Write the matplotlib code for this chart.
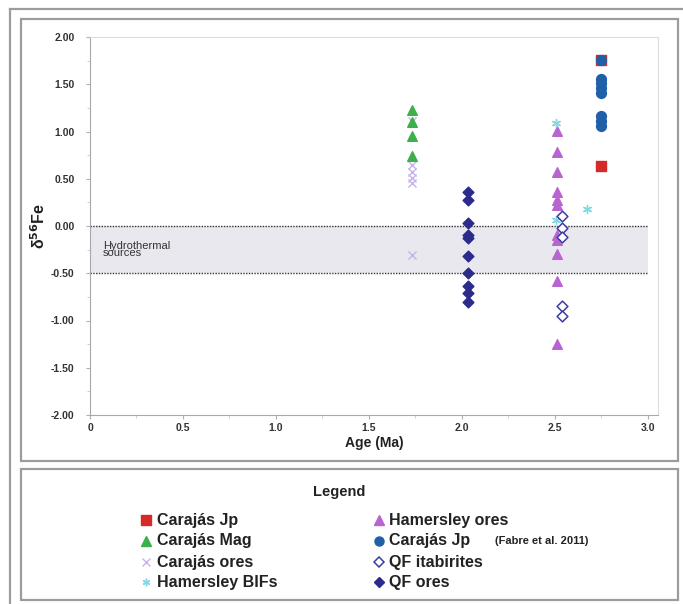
import matplotlib
matplotlib.use("Agg")
import matplotlib.pyplot as plt
from matplotlib.patches import Rectangle
from matplotlib.lines import Line2D

plt.rcParams["font.family"] = ["Liberation Sans", "DejaVu Sans"]

W, H = 683, 604

# Data (age in Ma, delta56Fe)
carajas_jp_age = [2.75, 2.75]
carajas_jp_fe = [1.76, 0.64]

carajas_mag_age = [1.73, 1.73, 1.73, 1.73]
carajas_mag_fe = [1.23, 1.10, 0.95, 0.74]

carajas_ores_age = [1.73] * 6
carajas_ores_fe = [1.11, 0.65, 0.57, 0.51, 0.46, -0.31]

hamersley_bif_age = [2.505, 2.505, 2.67]
hamersley_bif_fe = [1.09, 0.06, 0.18]

hamersley_ores_age = [2.51] * 11
hamersley_ores_fe = [1.01, 0.78, 0.57, 0.36, 0.28, 0.22, -0.10, -0.15, -0.30, -0.58, -1.25]

fabre_age = [2.75] * 8
fabre_fe = [1.76, 1.56, 1.51, 1.46, 1.41, 1.16, 1.11, 1.06]

qf_itab_age = [2.54] * 5
qf_itab_fe = [0.11, -0.02, -0.12, -0.85, -0.95]

qf_ores_age = [2.03] * 10
qf_ores_fe = [0.36, 0.27, 0.03, -0.10, -0.13, -0.32, -0.50, -0.63, -0.71, -0.80]

band_top, band_bottom = 0.0, -0.5
x_ticks = [0, 0.5, 1.0, 1.5, 2.0, 2.5, 3.0]
x_tick_labels = ["0", "0.5", "1.0", "1.5", "2.0", "2.5", "3.0"]
y_ticks = [2.0, 1.5, 1.0, 0.5, 0.0, -0.5, -1.0, -1.5, -2.0]

C_RED = "#d42a2a"
C_GREEN = "#3cb04a"
C_LAV = "#c9b2ec"
C_CYAN = "#86d6e2"
C_PURPLE = "#b865d2"
C_BLUE = "#2060a8"
C_ITAB = "#3c3ca0"
C_NAVY = "#2c2a8a"


def fx(px):
    return px / W


def fy(py):
    return 1 - py / H


fig = plt.figure(figsize=(W / 100, H / 100), dpi=100)
fig.patch.set_facecolor("white")

# frames around chart and legend
frame_col = "#9c9c9c"
fig.add_artist(Line2D([fx(10), fx(10)], [fy(9), 0], color=frame_col, lw=1.6, transform=fig.transFigure))
fig.add_artist(Line2D([fx(10), 1], [fy(9), fy(9)], color=frame_col, lw=1.6, transform=fig.transFigure))
fig.add_artist(Rectangle((fx(21), fy(461)), fx(678) - fx(21), fy(19) - fy(461), fill=False,
                         edgecolor=frame_col, lw=1.6, transform=fig.transFigure))
fig.add_artist(Rectangle((fx(21), fy(600)), fx(678) - fx(21), fy(469) - fy(600), fill=False,
                         edgecolor=frame_col, lw=1.6, transform=fig.transFigure))

ax = fig.add_axes([fx(90), fy(415), fx(658) - fx(90), fy(37) - fy(415)])
ax.set_xlim(0, 3.054)
ax.set_ylim(-2.0, 2.0)

# hydrothermal band
ax.fill_between([0, 3.0], band_bottom, band_top, color="#e8e8ee", zorder=0, lw=0)
ax.plot([0, 3.0], [band_top, band_top], color="#333333", ls=(0, (1, 1)), lw=1.0, zorder=1)
ax.plot([0, 3.0], [band_bottom, band_bottom], color="#333333", ls=(0, (1, 1)), lw=1.0, zorder=1)
ax.text(0.07, -0.25, "Hydrothermal\nsources", fontsize=8, color="#333333",
        linespacing=0.7, va="center", ha="left")

ax.scatter(carajas_ores_age, carajas_ores_fe, marker="x", s=34, color=C_LAV, lw=1.0, zorder=2)
ax.scatter(carajas_mag_age, carajas_mag_fe, marker="^", s=48, color=C_GREEN, zorder=3)
ax.scatter(hamersley_ores_age, hamersley_ores_fe, marker="^", s=48, color=C_PURPLE, zorder=3)
ax.scatter(hamersley_bif_age, hamersley_bif_fe, marker=(6, 2, 0), s=34, color=C_CYAN, lw=1.0, zorder=4)
ax.scatter(carajas_jp_age, carajas_jp_fe, marker="s", s=48, color=C_RED, zorder=3)
ax.scatter(fabre_age, fabre_fe, marker="o", s=50, color=C_BLUE, zorder=4)
ax.scatter(qf_itab_age, qf_itab_fe, marker="D", s=30, facecolor="white", edgecolor=C_ITAB, lw=1.1, zorder=4)
ax.scatter(qf_ores_age, qf_ores_fe, marker="D", s=30, color=C_NAVY, zorder=4)

ax.set_xticks(x_ticks)
ax.set_xticklabels(x_tick_labels)
ax.set_yticks(y_ticks)
ax.set_yticklabels([f"{v:.2f}" for v in y_ticks])
ax.set_xticks([0.25, 0.75, 1.25, 1.75, 2.25, 2.75], minor=True)
ax.set_yticks([1.75, 1.25, 0.75, 0.25, -0.25, -0.75, -1.25, -1.75], minor=True)
ax.tick_params(axis="both", which="major", length=3, color="#b0b0b0", labelsize=7.5,
               labelcolor="#333333")
ax.tick_params(axis="x", which="major", pad=3)
ax.tick_params(axis="y", which="major", pad=8)
ax.tick_params(axis="both", which="minor", length=2, color="#c8c8c8")
for lab in ax.get_xticklabels() + ax.get_yticklabels():
    lab.set_fontweight("bold")

for side in ["left", "bottom"]:
    ax.spines[side].set_color("#a8a8a8")
for side in ["top", "right"]:
    ax.spines[side].set_color("#dcdcdc")

ax.set_xlabel("Age (Ma)", fontsize=10, fontweight="bold", color="#222222", labelpad=2)
ax.set_ylabel(r"δ$^{\mathbf{56}}$Fe", fontsize=11.5, fontweight="bold", color="#222222", labelpad=2)

# legend panel
fig.text(fx(339), fy(492), "Legend", fontsize=10.5, fontweight="bold", ha="center", va="center",
         color="#222222")

left_col = [
    ("Carajás Jp", dict(marker="s", color=C_RED, ms=6.5)),
    ("Carajás Mag", dict(marker="^", color=C_GREEN, ms=6.5)),
    ("Carajás ores", dict(marker="x", color=C_LAV, ms=5.5, mew=1.0)),
    ("Hamersley BIFs", dict(marker=(6, 2, 0), color=C_CYAN, ms=5.5, mew=1.0)),
]
right_col = [
    ("Hamersley ores", dict(marker="^", color=C_PURPLE, ms=6.5)),
    ("Carajás Jp", dict(marker="o", color=C_BLUE, ms=6.5)),
    ("QF itabirites", dict(marker="D", color=C_ITAB, mfc="white", ms=5, mew=1.1)),
    ("QF ores", dict(marker="D", color=C_NAVY, ms=5)),
]
rows = [520, 541, 562, 582]
for (text, style), py in zip(left_col, rows):
    fig.add_artist(Line2D([fx(146)], [fy(py)], ls="none", transform=fig.transFigure, **style))
    fig.text(fx(157), fy(py), text, fontsize=11.5, fontweight="bold", va="center", color="#222222")
for (text, style), py in zip(right_col, rows):
    fig.add_artist(Line2D([fx(379)], [fy(py)], ls="none", transform=fig.transFigure, **style))
    fig.text(fx(389), fy(py), text, fontsize=11.5, fontweight="bold", va="center", color="#222222")
fig.text(fx(495), fy(541), "(Fabre et al. 2011)", fontsize=8, fontweight="bold", va="center",
         color="#222222")

fig.savefig("out.png", dpi=100)
